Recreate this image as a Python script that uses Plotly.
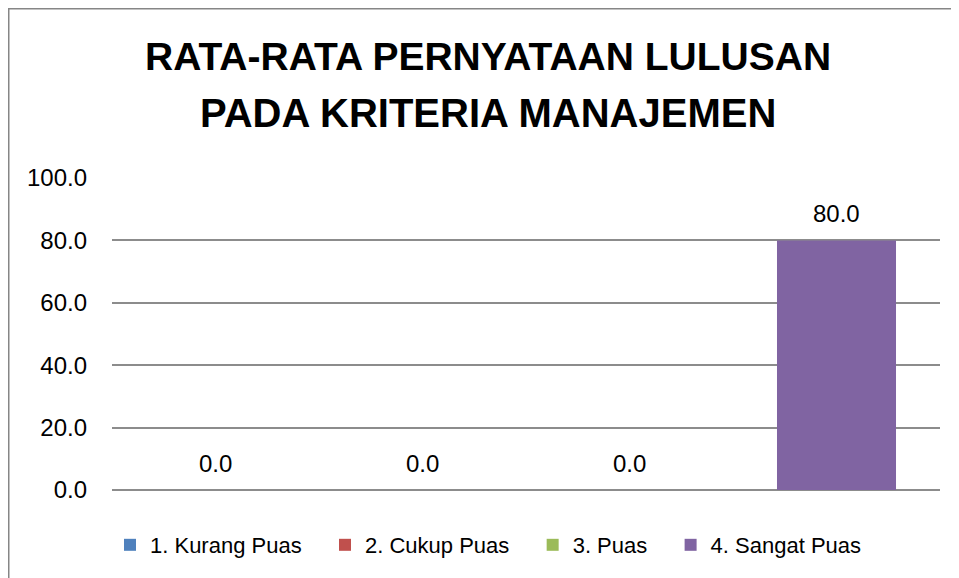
import plotly.graph_objects as go

categories = ["1. Kurang Puas", "2. Cukup Puas", "3. Puas", "4. Sangat Puas"]
values = [0.0, 0.0, 0.0, 80.0]
colors = ["#4F81BD", "#C0504D", "#9BBB59", "#8064A2"]
y_ticks = [0, 20, 40, 60, 80, 100]
title_lines = ["RATA-RATA PERNYATAAN LULUSAN", "PADA KRITERIA MANAJEMEN"]

FONT = "Liberation Sans"

# page body has an 8px margin, so the figure is drawn 8px in from the window edge
W, H = 951, 570
ml, mr, mt, mb = 104, 19, 170, 88
pw, ph = W - ml - mr, H - mt - mb


def px_x(px):
    return (px - ml) / pw


def px_y(py):
    return (H - mb - py) / ph


fig = go.Figure()
pad = "\u00a0\u00a0\u00a0"
for cat, val, col in zip(categories, values, colors):
    fig.add_trace(go.Bar(
        x=[cat], y=[val], name=cat + pad,
        marker=dict(color=col, line=dict(width=0)),
        showlegend=True,
    ))

for cat, val in zip(categories, values):
    fig.add_annotation(x=cat, y=val, text=f"{val:.1f}", showarrow=False,
                       yanchor="middle", yshift=27,
                       font=dict(family=FONT, size=24, color="#000000"))

# title lines
for line, cy, sz in zip(title_lines, [48, 105], [39, 40]):
    fig.add_annotation(x=px_x(480), y=px_y(cy), xref="paper", yref="paper",
                       text=f"<b>{line}</b>", showarrow=False,
                       xanchor="center", yanchor="middle",
                       font=dict(family=FONT, size=sz, color="#000000"))

fig.add_shape(type="rect", xref="paper", yref="paper",
              x0=px_x(0.75), x1=px_x(1000),
              y0=px_y(640), y1=px_y(0.75),
              line=dict(color="#868686", width=1.5), fillcolor="rgba(0,0,0,0)",
              layer="below")

fig.update_layout(
    width=W, height=H,
    margin=dict(l=ml, r=mr, t=mt, b=mb),
    paper_bgcolor="white", plot_bgcolor="white",
    barmode="overlay", bargap=0.425,
    xaxis=dict(type="category", categoryorder="array", categoryarray=categories,
               showticklabels=False, showgrid=False, zeroline=False,
               showline=False, ticks=""),
    yaxis=dict(range=[0, 100], tickvals=y_ticks, tickformat=".1f",
               showgrid=True, gridcolor="#8C8C8C", gridwidth=1.5,
               zeroline=True, zerolinecolor="#8C8C8C", zerolinewidth=1.5,
               showline=False, ticks="", ticklabelstandoff=24,
               tickfont=dict(family=FONT, size=24, color="#000000")),
    legend=dict(orientation="h", x=px_x(102), xanchor="left", y=-0.109, yanchor="top",
                font=dict(family=FONT, size=22, color="#000000"),
                traceorder="normal", bgcolor="rgba(0,0,0,0)"),
    showlegend=True,
)

fig.write_html("out.html")
